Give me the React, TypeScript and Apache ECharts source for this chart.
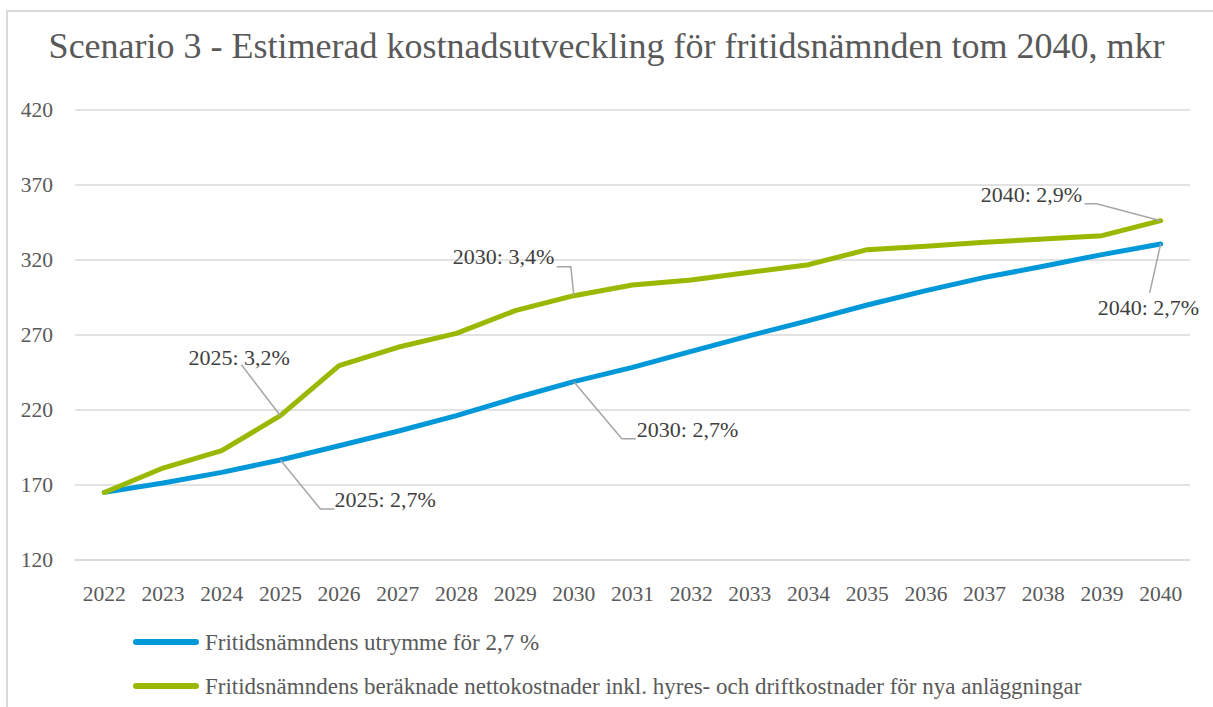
import React, { useEffect, useRef } from "react";
import * as echarts from "echarts";

const titleText = "Scenario 3 - Estimerad kostnadsutveckling för fritidsnämnden tom 2040, mkr";

const years = ["2022", "2023", "2024", "2025", "2026", "2027", "2028", "2029", "2030", "2031", "2032", "2033", "2034", "2035", "2036", "2037", "2038", "2039", "2040"];

const utrymmeName = "Fritidsnämndens utrymme för 2,7 %";
const utrymme = [165.1, 171.3, 178.4, 186.7, 196.2, 205.8, 216.2, 228.0, 238.9, 248.4, 259.1, 269.6, 279.6, 290.0, 299.6, 308.4, 315.8, 323.6, 330.7];

const nettoName = "Fritidsnämndens beräknade nettokostnader inkl. hyres- och driftkostnader för nya anläggningar";
const netto = [165.0, 181.3, 192.9, 216.2, 249.6, 261.8, 271.1, 286.2, 296.2, 303.3, 306.7, 311.8, 316.9, 326.9, 329.1, 331.8, 334.0, 336.2, 346.2];

const yTicks = [120, 170, 220, 270, 320, 370, 420];

// Annotated points: which series, which year, and text
const annotationSeries = ["netto", "utrymme", "netto", "utrymme", "netto", "utrymme"];
const annotationYears = ["2025", "2025", "2030", "2030", "2040", "2040"];
const annotationTexts = ["2025: 3,2%", "2025: 2,7%", "2030: 3,4%", "2030: 2,7%", "2040: 2,9%", "2040: 2,7%"];

// Layout of labels relative to their point (pixels) — positions only
const annotationLayout = [
  { text: [-92, -58], leader: [[-39, -51]] },
  { text: [54, 40], leader: [[40, 49], [54, 49]] },
  { text: [-121, -39], leader: [[-3, -29], [-17, -29]] },
  { text: [63, 48], leader: [[48, 57], [62, 57]] },
  { text: [-180, -26], leader: [[-64, -17], [-76, -17]] },
  { text: [-63, 64], leader: [[-11, 49]] },
];

const FONT = "'Liberation Serif', 'DejaVu Serif', serif";
const BLUE = "#0098D8";
const GREEN = "#99B800";

export default function App() {
  const ref = useRef<HTMLDivElement>(null);

  useEffect(() => {
    if (!ref.current) return;
    const chart = echarts.init(ref.current, undefined, { renderer: "svg" });

    const annData = annotationYears.map((y, i) => {
      const arr = annotationSeries[i] === "netto" ? netto : utrymme;
      return [y, arr[years.indexOf(y)]];
    });

    chart.setOption({
      animation: false,
      textStyle: { fontFamily: FONT },
      title: {
        text: titleText,
        left: "center",
        top: 23,
        textStyle: { fontFamily: FONT, fontSize: 36, fontWeight: "normal", color: "#595959" },
      },
      graphic: [
        {
          type: "rect",
          shape: { x: 7, y: 11, width: 1260, height: 760 },
          style: { fill: "none", stroke: "#d9d9d9", lineWidth: 2 },
          silent: true,
          z: -10,
        },
      ],
      legend: {
        orient: "vertical",
        left: 128,
        top: 625,
        itemWidth: 66,
        itemHeight: 6,
        itemGap: 20,
        icon: "path://M3 0H63A3 3 0 0 1 63 6H3A3 3 0 0 1 3 0Z",
        textStyle: { fontFamily: FONT, fontSize: 23, color: "#595959", lineHeight: 24, padding: [0, 0, 0, 1] },
        data: [utrymmeName, nettoName],
      },
      grid: { left: 75, right: 23, top: 110, bottom: 147, containLabel: false },
      xAxis: {
        type: "category",
        data: years,
        boundaryGap: true,
        axisLine: { show: true, lineStyle: { color: "#d9d9d9", width: 1.5 } },
        axisTick: { show: false },
        axisLabel: { fontFamily: FONT, fontSize: 21.5, color: "#595959", margin: 23 },
      },
      yAxis: {
        type: "value",
        min: yTicks[0],
        max: yTicks[yTicks.length - 1],
        interval: 50,
        axisLine: { show: false },
        axisTick: { show: false },
        axisLabel: { fontFamily: FONT, fontSize: 21.5, color: "#595959", margin: 22 },
        splitLine: { lineStyle: { color: "#d9d9d9", width: 1.5 } },
      },
      series: [
        {
          name: utrymmeName,
          type: "line",
          data: utrymme,
          symbol: "none",
          lineStyle: { color: BLUE, width: 5, cap: "round", join: "round" },
          itemStyle: { color: BLUE },
          z: 3,
        },
        {
          name: nettoName,
          type: "line",
          data: netto,
          symbol: "none",
          lineStyle: { color: GREEN, width: 5, cap: "round", join: "round" },
          itemStyle: { color: GREEN },
          z: 4,
        },
        {
          name: "annotations",
          type: "custom",
          coordinateSystem: "cartesian2d",
          silent: true,
          clip: false,
          z: 5,
          encode: { x: 0, y: 1 },
          data: annData,
          renderItem: (params: any, api: any) => {
            const i = params.dataIndex;
            const p = api.coord([api.value(0), api.value(1)]);
            const lay = annotationLayout[i];
            const pts = [[p[0], p[1]], ...lay.leader.map(([dx, dy]) => [p[0] + dx, p[1] + dy])];
            return {
              type: "group",
              children: [
                {
                  type: "polyline",
                  shape: { points: pts },
                  style: { stroke: "#a6a6a6", lineWidth: 1.5, fill: null },
                },
                {
                  type: "text",
                  x: p[0] + lay.text[0],
                  y: p[1] + lay.text[1],
                  style: {
                    text: annotationTexts[i],
                    fill: "#404040",
                    font: `22px ${FONT}`,
                    align: "left",
                    verticalAlign: "middle",
                  },
                },
              ],
            };
          },
        },
      ],
    });

    return () => chart.dispose();
  }, []);

  return (
    <div
      ref={ref}
      style={{ position: "fixed", left: 0, top: 0, width: 1213, height: 707, background: "#fff" }}
    />
  );
}
